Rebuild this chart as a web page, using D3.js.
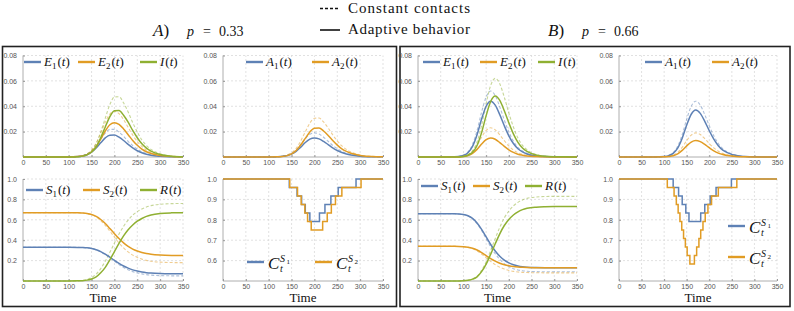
<!DOCTYPE html>
<html>
<head>
<meta charset="utf-8">
<script src="https://cdn.jsdelivr.net/npm/d3@7/dist/d3.min.js"></script>
<style>
  body { margin: 0; background: #fff; }
  svg { display: block; }
  .tick text { font-family: "Liberation Sans", Arial, sans-serif; font-size: 7px; fill: #555; }
  .serif { font-family: "Liberation Serif", "Times New Roman", serif; fill: #111; }
</style>
</head>
<body>
<script>
// time grids (days)
var tA = [0,50,100,120,130,140,150,160,170,180,190,200,210,220,230,240,250,260,270,280,300,325,350];
var tB = [0,50,80,100,110,120,130,140,150,160,170,180,190,200,210,220,230,240,260,280,300,325,350];
var xTicks = [0,50,100,150,200,250,300,350];

// panel A, p = 0.33  (suffix c = constant contacts, dashed)
var aE1  = [0,0,0,0.0003,0.0008,0.0018,0.0039,0.0072,0.0112,0.0151,0.0172,0.0173,0.0156,0.0130,0.0099,0.0072,0.0049,0.0033,0.0022,0.0014,0.0006,0.0002,0.0001];
var aE1c = [0,0,0,0.0004,0.0011,0.0023,0.0048,0.0090,0.0141,0.0189,0.0217,0.0218,0.0196,0.0163,0.0124,0.0090,0.0062,0.0042,0.0028,0.0018,0.0007,0.0002,0.0001];
var aE2  = [0,0,0,0.0003,0.0008,0.0019,0.0041,0.0081,0.0140,0.0205,0.0254,0.0270,0.0257,0.0221,0.0176,0.0130,0.0092,0.0062,0.0041,0.0027,0.0011,0.0003,0.0001];
var aE2c = [0,0,0,0.0004,0.0011,0.0025,0.0054,0.0108,0.0187,0.0274,0.0338,0.0360,0.0342,0.0295,0.0234,0.0173,0.0122,0.0083,0.0054,0.0036,0.0014,0.0004,0.0001];
var aI   = [0,0,0,0.0002,0.0007,0.0018,0.0039,0.0081,0.0152,0.0237,0.0318,0.0364,0.0366,0.0329,0.0274,0.0209,0.0152,0.0104,0.0070,0.0046,0.0019,0.0006,0.0002];
var aIc  = [0,0,0,0.0002,0.0009,0.0023,0.0050,0.0106,0.0197,0.0307,0.0413,0.0473,0.0475,0.0427,0.0355,0.0271,0.0197,0.0134,0.0091,0.0060,0.0025,0.0007,0.0002];
var aA1  = [0,0,0,0.0002,0.0005,0.0011,0.0023,0.0045,0.0078,0.0114,0.0141,0.0150,0.0143,0.0123,0.0098,0.0072,0.0051,0.0035,0.0023,0.0015,0.0006,0.0002,0.0001];
var aA1c = [0,0,0,0.0002,0.0006,0.0013,0.0029,0.0057,0.0099,0.0144,0.0179,0.0190,0.0181,0.0156,0.0124,0.0091,0.0065,0.0044,0.0029,0.0019,0.0008,0.0002,0.0001];
var aA2  = [0,0,0,0.0001,0.0004,0.0011,0.0024,0.0051,0.0094,0.0147,0.0198,0.0227,0.0228,0.0205,0.0170,0.0130,0.0094,0.0064,0.0044,0.0029,0.0012,0.0003,0.0001];
var aA2c = [0,0,0,0.0002,0.0006,0.0015,0.0033,0.0068,0.0127,0.0198,0.0267,0.0305,0.0307,0.0276,0.0229,0.0175,0.0127,0.0087,0.0059,0.0039,0.0016,0.0005,0.0002];
var aS1  = [0.33,0.33,0.33,0.3295,0.3277,0.3248,0.3186,0.3071,0.2884,0.2637,0.2338,0.2026,0.1727,0.1467,0.1259,0.1090,0.0973,0.0882,0.0817,0.0773,0.0726,0.0705,0.07];
var aS1c = [0.33,0.33,0.33,0.3294,0.3275,0.3244,0.3177,0.3054,0.2852,0.2586,0.2264,0.1928,0.1606,0.1326,0.1102,0.0920,0.0794,0.0696,0.0626,0.0578,0.0528,0.0506,0.05];
var aS2  = [0.67,0.67,0.67,0.6692,0.6662,0.6616,0.6515,0.6330,0.6028,0.5629,0.5146,0.4642,0.4159,0.3739,0.3403,0.3130,0.2941,0.2794,0.2689,0.2618,0.2542,0.2508,0.25];
var aS2c = [0.67,0.67,0.67,0.6690,0.6656,0.6602,0.6484,0.6269,0.5916,0.5450,0.4887,0.4299,0.3735,0.3245,0.2853,0.2535,0.2314,0.2143,0.2020,0.1937,0.1849,0.1810,0.18];
var aR   = [0,0,0,0.0013,0.0034,0.0087,0.0201,0.0402,0.0804,0.1340,0.2077,0.2881,0.3685,0.4422,0.5025,0.5494,0.5863,0.6131,0.6332,0.6466,0.6613,0.6680,0.67];
var aRc  = [0,0,0,0.0015,0.0068,0.0152,0.0334,0.0669,0.1216,0.1938,0.2812,0.3724,0.4598,0.5358,0.5966,0.6460,0.6802,0.7068,0.7258,0.7387,0.7524,0.7585,0.76];
// contact levels (step after each time)
var aC1t = [0,145,162,172,180,190,211,223,236,252,291,350];
var aC1  = [1,0.958,0.917,0.875,0.833,0.792,0.833,0.875,0.917,0.958,1,1];
var aC2t = [0,146,163,171,179,185,193,218,228,237,246,260,302,350];
var aC2  = [1,0.958,0.917,0.875,0.833,0.792,0.75,0.792,0.833,0.875,0.917,0.958,1,1];

// panel B, p = 0.66
var bE1  = [0,0,0.0001,0.0013,0.0034,0.0084,0.0176,0.0299,0.0400,0.0440,0.0409,0.0334,0.0246,0.0167,0.0106,0.0065,0.0040,0.0024,0.0007,0.0003,0.0001,0,0];
var bE1c = [0,0,0.0002,0.0015,0.0041,0.0099,0.0208,0.0354,0.0473,0.0520,0.0484,0.0395,0.0291,0.0198,0.0125,0.0076,0.0048,0.0029,0.0009,0.0003,0.0001,0,0];
var bE2  = [0,0,0,0.0004,0.0012,0.0029,0.0060,0.0102,0.0137,0.0150,0.0140,0.0114,0.0084,0.0057,0.0036,0.0022,0.0014,0.0008,0.0003,0.0001,0,0,0];
var bE2c = [0,0,0.0001,0.0007,0.0018,0.0044,0.0092,0.0156,0.0209,0.0230,0.0214,0.0175,0.0129,0.0087,0.0055,0.0034,0.0021,0.0013,0.0004,0.0001,0,0,0];
var bI   = [0,0,0,0.0004,0.0014,0.0037,0.0091,0.0192,0.0326,0.0437,0.0480,0.0446,0.0365,0.0269,0.0182,0.0115,0.0071,0.0044,0.0015,0.0005,0.0002,0.0001,0];
var bIc  = [0,0,0.0001,0.0005,0.0018,0.0048,0.0118,0.0248,0.0422,0.0564,0.0620,0.0577,0.0471,0.0347,0.0236,0.0149,0.0091,0.0057,0.0019,0.0006,0.0002,0.0001,0];
var bA1  = [0,0,0,0.0003,0.0011,0.0029,0.0070,0.0148,0.0252,0.0337,0.0370,0.0344,0.0281,0.0207,0.0141,0.0089,0.0054,0.0034,0.0011,0.0004,0.0001,0,0];
var bA1c = [0,0,0,0.0004,0.0013,0.0034,0.0084,0.0176,0.0299,0.0400,0.0440,0.0409,0.0334,0.0246,0.0167,0.0106,0.0065,0.0040,0.0014,0.0004,0.0002,0.0001,0];
var bA2  = [0,0,0,0.0001,0.0004,0.0010,0.0025,0.0052,0.0088,0.0118,0.0130,0.0121,0.0099,0.0073,0.0049,0.0031,0.0019,0.0012,0.0004,0.0001,0,0,0];
var bA2c = [0,0,0,0.0002,0.0006,0.0015,0.0036,0.0076,0.0129,0.0173,0.0190,0.0177,0.0144,0.0106,0.0072,0.0046,0.0028,0.0017,0.0006,0.0002,0.0001,0,0];
var bS1  = [0.66,0.66,0.6589,0.6520,0.6393,0.6134,0.5688,0.5063,0.4321,0.3579,0.2943,0.2429,0.2047,0.1777,0.1586,0.1470,0.1395,0.1353,0.1316,0.13,0.13,0.13,0.13];
var bS1c = [0.66,0.66,0.6589,0.6514,0.6378,0.6098,0.5620,0.4947,0.4149,0.3351,0.2667,0.2114,0.1704,0.1413,0.1208,0.1082,0.1003,0.0957,0.0917,0.09,0.09,0.09,0.09];
var bS2  = [0.34,0.34,0.3396,0.3368,0.3318,0.3215,0.3039,0.2791,0.2497,0.2203,0.1951,0.1747,0.1596,0.1489,0.1413,0.1367,0.1338,0.1321,0.1306,0.13,0.13,0.13,0.13];
var bS2c = [0.34,0.34,0.3395,0.3361,0.3299,0.3171,0.2953,0.2646,0.2282,0.1918,0.1606,0.1354,0.1167,0.1034,0.0940,0.0883,0.0847,0.0826,0.0808,0.08,0.08,0.08,0.08];
var bR   = [0,0,0,0.0022,0.0066,0.0183,0.0409,0.0913,0.1650,0.2628,0.3650,0.4628,0.5439,0.6037,0.6475,0.6782,0.6993,0.7125,0.7242,0.7285,0.73,0.73,0.73];
var bRc  = [0,0,0,0.0025,0.0075,0.0208,0.0465,0.1038,0.1876,0.2988,0.4150,0.5262,0.6184,0.6864,0.7362,0.7711,0.7951,0.8101,0.8234,0.8283,0.83,0.83,0.83];
var bC1t = [0,120,132,140,148,155,181,190,202,215,249,350];
var bC1  = [1,0.958,0.917,0.875,0.833,0.792,0.833,0.875,0.917,0.958,1,1];
var bC2t = [0,107,122,127,131,135,139,143,147,151,157,167,172,177,181,186,191,197,205,220,261,350];
var bC2  = [1,0.958,0.917,0.875,0.833,0.792,0.75,0.708,0.667,0.625,0.583,0.625,0.667,0.708,0.75,0.792,0.833,0.875,0.917,0.958,1,1];

var blue = "#5e81b5", orange = "#e19c24", green = "#8fb032";

var svg = d3.select("body").append("svg")
  .attr("width", 794)
  .attr("height", 311);

// header
function header(x, letter, pval) {
  var t = svg.append("text").attr("class", "serif").attr("x", x).attr("y", 36);
  t.append("tspan").attr("font-size", "17px").attr("font-style", "italic").text(letter);
  t.append("tspan").attr("font-size", "17px").text(")");
  svg.append("text").attr("class", "serif").attr("x", x + 34).attr("y", 36)
    .attr("font-size", "14px").attr("font-style", "italic").text("p");
  svg.append("text").attr("class", "serif").attr("x", x + 50).attr("y", 36)
    .attr("font-size", "14px").text("=");
  svg.append("text").attr("class", "serif").attr("x", x + 66).attr("y", 36)
    .attr("font-size", "14px").text(pval);
}
header(153, "A", "0.33");
header(548, "B", "0.66");

svg.append("line").attr("x1", 320).attr("x2", 340).attr("y1", 8.5).attr("y2", 8.5)
  .attr("stroke", "#111").attr("stroke-width", 1.5).attr("stroke-dasharray", "3,2");
svg.append("line").attr("x1", 320).attr("x2", 340).attr("y1", 30).attr("y2", 30)
  .attr("stroke", "#111").attr("stroke-width", 1.6);
svg.append("text").attr("class", "serif").attr("x", 348).attr("y", 12.5)
  .attr("font-size", "15px").attr("textLength", 122).attr("lengthAdjust", "spacing")
  .text("Constant contacts");
svg.append("text").attr("class", "serif").attr("x", 348).attr("y", 34)
  .attr("font-size", "15px").attr("textLength", 122).attr("lengthAdjust", "spacing")
  .text("Adaptive behavior");

// outer boxes
svg.append("rect").attr("x", 2.5).attr("y", 46.5).attr("width", 394).attr("height", 260)
  .attr("fill", "none").attr("stroke", "#222").attr("stroke-width", 1.6);
svg.append("rect").attr("x", 400).attr("y", 46.5).attr("width", 390).attr("height", 260)
  .attr("fill", "none").attr("stroke", "#222").attr("stroke-width", 1.6);

// legend label like E_1(t)
function funcLabel(g, x, y, base, sub) {
  var t = g.append("text").attr("class", "serif").attr("x", x).attr("y", y).attr("font-size", "13px");
  t.append("tspan").attr("font-style", "italic").text(base);
  if (sub) t.append("tspan").attr("font-size", "9px").attr("dy", 3).text(sub);
  t.append("tspan").attr("dy", sub ? -3 : 0).attr("dx", 1).text("(");
  t.append("tspan").attr("font-style", "italic").text("t");
  t.append("tspan").text(")");
}

// legend label C_t^{S_i}
function contactLabel(g, x, y, idx) {
  g.append("text").attr("class", "serif").attr("x", x).attr("y", y)
    .attr("font-size", "17px").attr("font-style", "italic").text("C");
  g.append("text").attr("class", "serif").attr("x", x + 12).attr("y", y + 3)
    .attr("font-size", "10px").attr("font-style", "italic").text("t");
  g.append("text").attr("class", "serif").attr("x", x + 12).attr("y", y - 7)
    .attr("font-size", "10px").attr("font-style", "italic").text("S");
  g.append("text").attr("class", "serif").attr("x", x + 18.5).attr("y", y - 5)
    .attr("font-size", "7px").text(idx);
}

function plot(o) {
  var g = svg.append("g");
  var x = d3.scaleLinear().domain([0, 350]).range([o.x0, o.x1]);
  var y = d3.scaleLinear().domain(o.yDomain).range([o.y1, o.y0]);

  // dashed grid
  g.append("g").selectAll("line").data(xTicks.slice(1)).enter().append("line")
    .attr("x1", function (d) { return x(d); }).attr("x2", function (d) { return x(d); })
    .attr("y1", o.y1).attr("y2", o.y0)
    .attr("stroke", "#d4d4d4").attr("stroke-width", 0.7).attr("stroke-dasharray", "2,2");
  g.append("g").selectAll("line").data(o.yTicks).enter().append("line")
    .attr("x1", o.x0).attr("x2", o.x1)
    .attr("y1", function (d) { return y(d); }).attr("y2", function (d) { return y(d); })
    .attr("stroke", "#d4d4d4").attr("stroke-width", 0.7).attr("stroke-dasharray", "2,2");

  var xa = g.append("g").attr("transform", "translate(0," + o.y1 + ")")
    .call(d3.axisBottom(x).tickValues(xTicks).tickSize(-2).tickPadding(3));
  var ya = g.append("g").attr("transform", "translate(" + o.x0 + ",0)")
    .call(d3.axisLeft(y).tickValues(o.yTicks).tickFormat(d3.format(o.fmt)).tickSize(-2).tickPadding(6));
  [xa, ya].forEach(function (a) {
    a.select(".domain").attr("stroke", "#999").attr("stroke-width", 0.8);
    a.selectAll(".tick line").attr("stroke", "#999");
  });
  ya.select(".domain").attr("d", "M0," + o.y1 + "V" + o.y0);
  xa.select(".domain").attr("d", "M" + o.x0 + ",0H" + o.x1);

  // dashed (constant contacts) behind, solid (adaptive) on top
  var lines = o.lines.slice().sort(function (a, b) { return (b.dash ? 1 : 0) - (a.dash ? 1 : 0); });
  lines.forEach(function (s) {
    var pts = s.t.map(function (t, i) { return [t, s.v[i]]; });
    var line = d3.line()
      .x(function (d) { return x(d[0]); })
      .y(function (d) { return y(d[1]); })
      .curve(s.step ? d3.curveStepAfter : d3.curveMonotoneX);
    g.append("path").datum(pts)
      .attr("fill", "none")
      .attr("stroke", s.c)
      .attr("stroke-width", s.dash ? 1.1 : 1.5)
      .attr("stroke-opacity", s.dash ? 0.5 : 1)
      .attr("stroke-dasharray", s.dash ? "3,2" : null)
      .attr("d", line);
  });

  o.legend.forEach(function (l) {
    g.append("line").attr("x1", l.x).attr("x2", l.x + 17).attr("y1", l.y).attr("y2", l.y)
      .attr("stroke", l.c).attr("stroke-width", 2.4);
    if (l.contact) contactLabel(g, l.x + 21, l.y + 7, l.contact);
    else funcLabel(g, l.x + 20, l.y + 4, l.base, l.sub);
  });

  if (o.time) {
    g.append("text").attr("class", "serif").attr("x", (o.x0 + o.x1) / 2).attr("y", 302)
      .attr("text-anchor", "middle").attr("font-size", "13px").text("Time");
  }
}

var rowTop = [55.5, 157], rowBot = [179, 281];
var epi = { yDomain: [0, 0.08], yTicks: [0.02, 0.04, 0.06, 0.08], fmt: ".2f" };
var sus = { yDomain: [0, 1], yTicks: [0.2, 0.4, 0.6, 0.8, 1.0], fmt: ".1f", time: true };
var con = { yDomain: [0.5, 1], yTicks: [0.6, 0.7, 0.8, 0.9, 1.0], fmt: ".1f", time: true };

function cfg(base, x0, x1, yr, lines, legend) {
  return Object.assign({}, base, { x0: x0, x1: x1, y0: yr[0], y1: yr[1], lines: lines, legend: legend });
}

// panel A
plot(cfg(epi, 23, 183, rowTop, [
  { t: tA, v: aE1c, c: blue, dash: true }, { t: tA, v: aE2c, c: orange, dash: true }, { t: tA, v: aIc, c: green, dash: true },
  { t: tA, v: aE1, c: blue }, { t: tA, v: aE2, c: orange }, { t: tA, v: aI, c: green }
], [
  { x: 24, y: 62, c: blue, base: "E", sub: "1" }, { x: 78, y: 62, c: orange, base: "E", sub: "2" }, { x: 140, y: 62, c: green, base: "I" }
]));
plot(cfg(epi, 223, 383, rowTop, [
  { t: tA, v: aA1c, c: blue, dash: true }, { t: tA, v: aA2c, c: orange, dash: true },
  { t: tA, v: aA1, c: blue }, { t: tA, v: aA2, c: orange }
], [
  { x: 246, y: 62, c: blue, base: "A", sub: "1" }, { x: 312, y: 62, c: orange, base: "A", sub: "2" }
]));
plot(cfg(sus, 23, 183, rowBot, [
  { t: tA, v: aS1c, c: blue, dash: true }, { t: tA, v: aS2c, c: orange, dash: true }, { t: tA, v: aRc, c: green, dash: true },
  { t: tA, v: aS1, c: blue }, { t: tA, v: aS2, c: orange }, { t: tA, v: aR, c: green }
], [
  { x: 26, y: 190, c: blue, base: "S", sub: "1" }, { x: 83, y: 190, c: orange, base: "S", sub: "2" }, { x: 140, y: 190, c: green, base: "R" }
]));
plot(cfg(con, 223, 383, rowBot, [
  { t: aC1t, v: aC1, c: blue, step: true }, { t: aC2t, v: aC2, c: orange, step: true }
], [
  { x: 247, y: 262, c: blue, contact: "1" }, { x: 315, y: 262, c: orange, contact: "2" }
]));

// panel B
plot(cfg(epi, 418, 577, rowTop, [
  { t: tB, v: bE1c, c: blue, dash: true }, { t: tB, v: bE2c, c: orange, dash: true }, { t: tB, v: bIc, c: green, dash: true },
  { t: tB, v: bE1, c: blue }, { t: tB, v: bE2, c: orange }, { t: tB, v: bI, c: green }
], [
  { x: 423, y: 62, c: blue, base: "E", sub: "1" }, { x: 480, y: 62, c: orange, base: "E", sub: "2" }, { x: 538, y: 62, c: green, base: "I" }
]));
plot(cfg(epi, 619, 777, rowTop, [
  { t: tB, v: bA1c, c: blue, dash: true }, { t: tB, v: bA2c, c: orange, dash: true },
  { t: tB, v: bA1, c: blue }, { t: tB, v: bA2, c: orange }
], [
  { x: 645, y: 62, c: blue, base: "A", sub: "1" }, { x: 712, y: 62, c: orange, base: "A", sub: "2" }
]));
plot(cfg(sus, 418, 577, rowBot, [
  { t: tB, v: bS1c, c: blue, dash: true }, { t: tB, v: bS2c, c: orange, dash: true }, { t: tB, v: bRc, c: green, dash: true },
  { t: tB, v: bS1, c: blue }, { t: tB, v: bS2, c: orange }, { t: tB, v: bR, c: green }
], [
  { x: 421, y: 186, c: blue, base: "S", sub: "1" }, { x: 473, y: 186, c: orange, base: "S", sub: "2" }, { x: 525, y: 186, c: green, base: "R" }
]));
plot(cfg(con, 619, 777, rowBot, [
  { t: bC1t, v: bC1, c: blue, step: true }, { t: bC2t, v: bC2, c: orange, step: true }
], [
  { x: 728, y: 226, c: blue, contact: "1" }, { x: 728, y: 257, c: orange, contact: "2" }
]));
</script>
</body>
</html>
